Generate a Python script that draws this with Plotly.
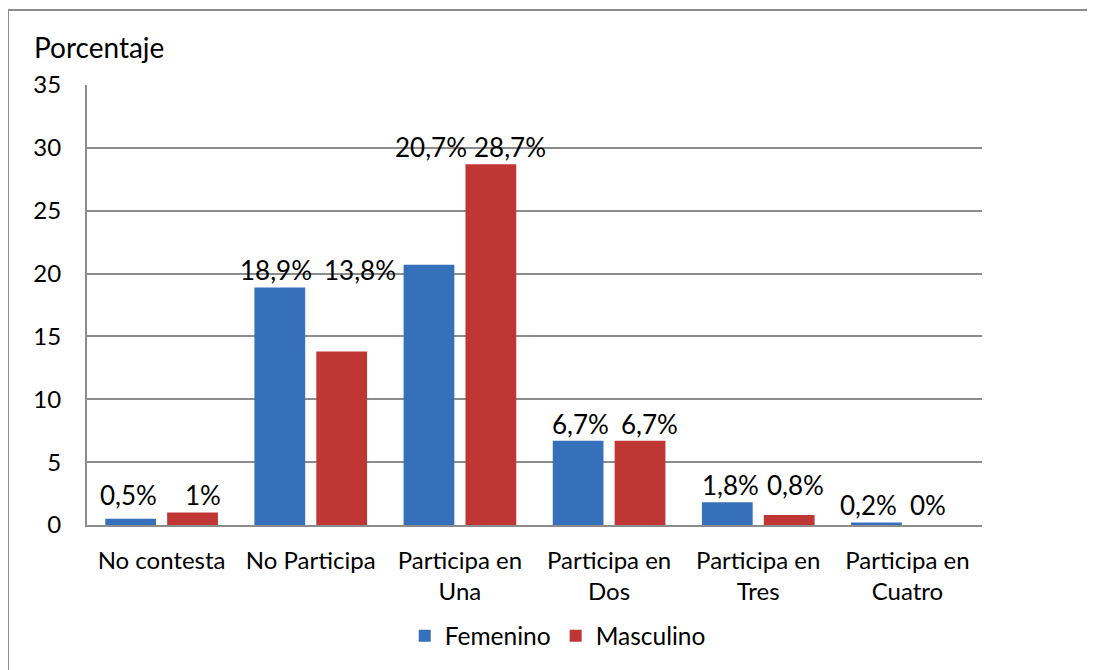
import plotly.graph_objects as go

categories = ["No contesta", "No Participa", "Participa en<br>Una", "Participa en<br>Dos",
              "Participa en<br>Tres", "Participa en<br>Cuatro"]
femenino = [0.5, 18.9, 20.7, 6.7, 1.8, 0.2]
masculino = [1, 13.8, 28.7, 6.7, 0.8, 0]
fem_labels = ["0,5%", "18,9%", "20,7%", "6,7%", "1,8%", "0,2%"]
mas_labels = ["1%", "13,8%", "28,7%", "6,7%", "0,8%", "0%"]
y_ticks = [0, 5, 10, 15, 20, 25, 30, 35]

# label placement tweaks (pixels, styling only)
fem_label_dx = [-2, -4, 2, 2, 3, -8]
mas_label_dx = [10, 18, 19, 9, 6, -10]

FONT = "Lato"
BLUE = "#3670bb"
RED = "#bf3634"
GRID = "#8c8c8c"
BAR_OFFSET = 31

fig = go.Figure()
fig.add_trace(go.Bar(name="Femenino", x=categories, y=femenino,
                     marker=dict(color=BLUE, line=dict(width=0))))
fig.add_trace(go.Bar(name="Masculino", x=categories, y=masculino,
                     marker=dict(color=RED, line=dict(width=0))))

annotations = []
for i, cat in enumerate(categories):
    top = max(femenino[i], masculino[i])
    annotations.append(dict(x=cat, y=top, text=fem_labels[i], showarrow=False,
                            xshift=-BAR_OFFSET + fem_label_dx[i], yshift=17, yanchor="middle",
                            font=dict(family=FONT, size=26, color="#000")))
    annotations.append(dict(x=cat, y=top, text=mas_labels[i], showarrow=False,
                            xshift=BAR_OFFSET + mas_label_dx[i], yshift=17, yanchor="middle",
                            font=dict(family=FONT, size=26, color="#000")))
annotations.append(dict(x=-0.062, y=1.086, xref="paper", yref="paper", text="Porcentaje",
                        showarrow=False, xanchor="left", yanchor="middle",
                        font=dict(family=FONT, size=28, color="#000")))

fig.update_layout(
    width=1087, height=662,
    margin=dict(l=79, r=113, t=77, b=145),
    paper_bgcolor="white", plot_bgcolor="white",
    barmode="group", bargap=0.17, bargroupgap=0.18,
    font=dict(family=FONT, size=24, color="#000"),
    showlegend=True,
    legend=dict(orientation="h", x=0.355, xanchor="left", y=-0.252, yanchor="middle",
                font=dict(family=FONT, size=24.5, color="#000"), traceorder="normal",
                itemwidth=30, tracegroupgap=0),
    annotations=annotations,
    shapes=[dict(type="rect", xref="paper", yref="paper", x0=-0.0883, x1=1.25,
                 y0=-0.45, y1=1.1705, line=dict(color=GRID, width=2), layer="below")],
    xaxis=dict(showgrid=False, showline=True, linecolor=GRID, linewidth=2,
               ticks="", tickfont=dict(family=FONT, size=24), ticklabelstandoff=13),
    yaxis=dict(range=[0, 35], tickvals=y_ticks, showgrid=True, gridcolor=GRID, gridwidth=1.5,
               showline=True, linecolor=GRID, linewidth=2, zeroline=False,
               ticks="", tickfont=dict(family=FONT, size=24), ticklabelstandoff=19),
)

fig.write_html("out.html")
